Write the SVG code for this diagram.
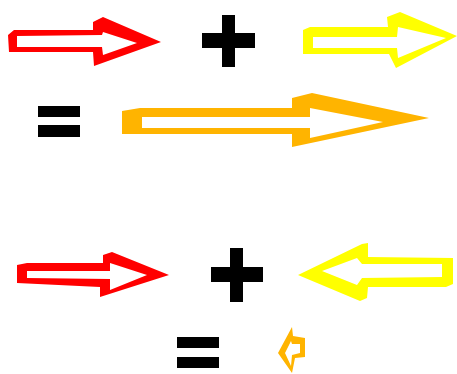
<svg xmlns="http://www.w3.org/2000/svg" width="457" height="374" viewBox="0 0 457 374">
<style>
.red{fill:#FF0000;fill-rule:evenodd}
.yel{fill:#FFFF00;fill-rule:evenodd}
.org{fill:#FFB400;fill-rule:evenodd}
.blk{fill:#000}
</style>
<rect width="457" height="374" fill="#fff"/>
<g id="red-arrow-1"><path class="red" d="M8,35 L14,30 L93,30 L93,22 L103,17 L161,42 L94,66 L93,52 L9,52 Z M17,36 L102,35 L103,32 L137,43 L103,55 L102,47 L17,47 Z"/></g>
<g id="plus-1"><rect class="blk" x="202" y="33" width="53" height="15"/><rect class="blk" x="222" y="15" width="13" height="52"/></g>
<g id="yellow-arrow-1"><path class="yel" d="M303,30 L310,27 L388,27 L387,17 L400,12 L457,36 L396,68 L389,54 L303,54 Z M313,37 L397,37 L398,27 L446,38 L398,58 L397,48 L313,48 Z"/></g>
<g id="equals-1"><rect class="blk" x="38" y="106" width="42" height="11"/><rect class="blk" x="38" y="125" width="42" height="12"/></g>
<g id="orange-arrow-big"><path class="org" d="M122,111 L140,108 L292,108 L292,98 L312,93 L429,118 L292,147 L292,134 L122,134 Z M142,117 L310,117 L310,108 L383,122 L310,138 L310,128 L142,128 Z"/></g>
<g id="red-arrow-2"><path class="red" d="M17,265 L27,263 L103,263 L103,255 L112,252 L169,275 L100,297 L100,287 L17,283 Z M27,271 L110,271 L110,263 L147,275 L110,290 L110,279 L27,278 Z"/></g>
<g id="plus-2"><rect class="blk" x="211" y="267" width="52" height="15"/><rect class="blk" x="230" y="248" width="13" height="54"/></g>
<g id="yellow-arrow-2"><path class="yel" d="M298,275 L362,244 L368,243 L368,257 L453,258 L453,284 L446,287 L368,287 L367,298 L360,301 Z M322,271 L357,258 L362,264 L442,264 L442,277 L362,278 L357,285 Z"/></g>
<g id="equals-2"><rect class="blk" x="177" y="337" width="42" height="11"/><rect class="blk" x="177" y="357" width="42" height="11"/></g>
<g id="orange-arrow-small"><path class="org" d="M278,353 L292,327 L293,336 L305,338 L305,357 L295,358 L292,373 Z M285,353 L291,341 L292,344 L300,344 L300,353 L292,355 L291,366 Z"/></g>
</svg>
